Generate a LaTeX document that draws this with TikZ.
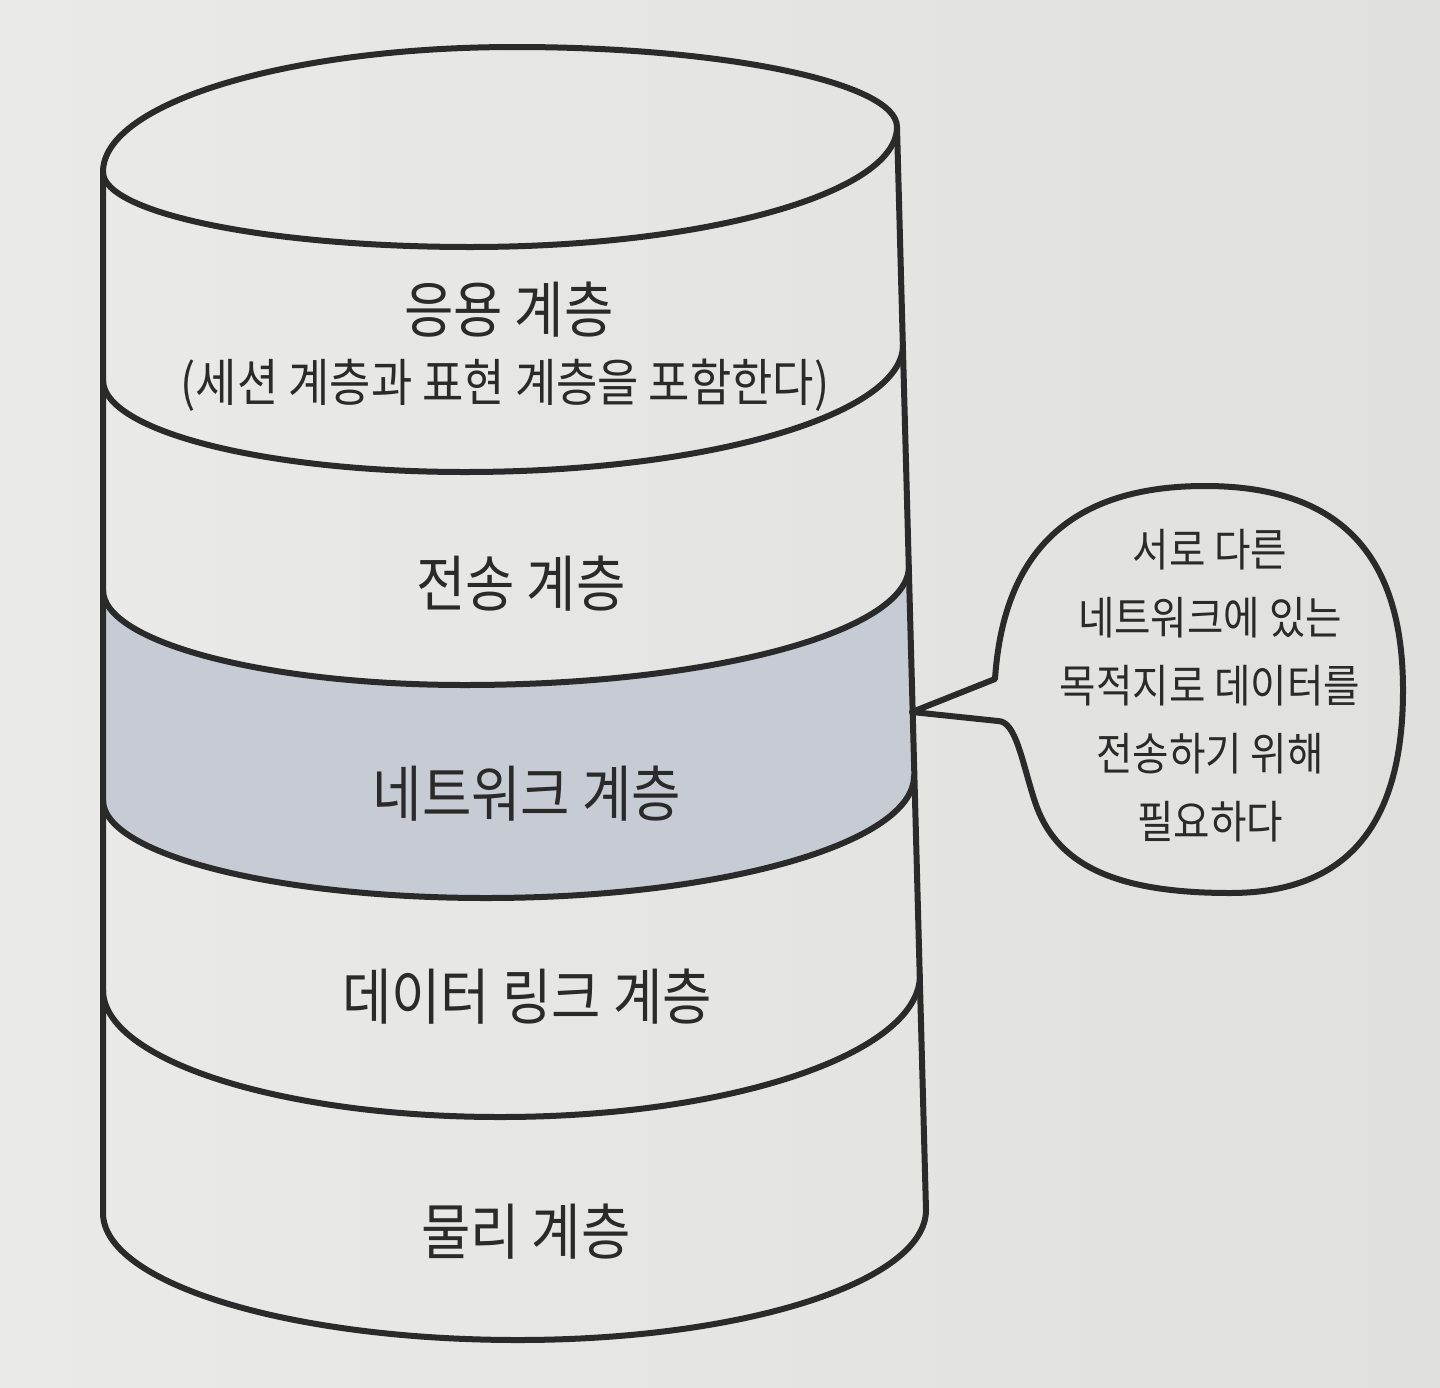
\documentclass[tikz,border=0pt]{standalone}
\usepackage{fontspec}
\setmainfont{Noto Sans CJK KR}[FakeStretch=0.88]
\definecolor{paper}{RGB}{234,234,232}
\definecolor{paperdark}{RGB}{224,224,223}
\definecolor{ink}{RGB}{42,42,42}
\definecolor{netfill}{RGB}{198,203,212}
\tikzset{
  outline/.style={draw=ink, line width=6pt, line join=round, line cap=round},
  layerlabel/.style={text=ink, font=\fontsize{61}{68}\selectfont, inner sep=0pt},
  sublabel/.style={text=ink, font=\fontsize{51}{58}\selectfont, inner sep=0pt},
  bubbletext/.style={text=ink, font=\fontsize{45}{68}\selectfont, align=center, inner sep=0pt},
}
\begin{document}
\begin{tikzpicture}[x=1pt,y=-1pt]
\useasboundingbox (0,0) rectangle (1440,1387);
\shade[left color=paper, right color=paperdark] (0,0) rectangle (1440,1387);

% corner coordinates of the cylinder
\coordinate (TL) at (103,172);
\coordinate (TR) at (897,127);
\coordinate (BL) at (103,1213);
\coordinate (BR) at (926,1210);
\coordinate (tip) at (912,712);

% shaded network layer
\fill[netfill] (103,590) .. controls (103,642) and (265,685) .. (465,685)
  .. controls (710,685) and (909,632) .. (909,566)
  -- (914,776) .. controls (914,843) and (722,898) .. (486,898)
  .. controls (275,898) and (103,854) .. (103,800) -- cycle;

% cylinder walls and bottom
\draw[outline] (TL) -- (BL)
  .. controls (103,1283) and (289,1340) .. (518,1340)
  .. controls (743,1340) and (926,1282) .. (BR) -- (TR);

% top ellipse
\draw[outline] (TL) .. controls (103,103) and (288,47) .. (515,47)
  .. controls (726,47) and (897,83) .. (TR)
  .. controls (897,193) and (706,247) .. (470,247)
  .. controls (267,247) and (103,213) .. (TL) -- cycle;

% layer boundaries
\draw[outline] (103,380) .. controls (103,431) and (265,472) .. (465,472)
  .. controls (707,472) and (903,415) .. (903,345);
\draw[outline] (103,590) .. controls (103,642) and (265,685) .. (465,685)
  .. controls (710,685) and (909,632) .. (909,566);
\draw[outline] (103,800) .. controls (103,854) and (275,898) .. (486,898)
  .. controls (722,898) and (914,843) .. (914,776);
\draw[outline] (103,990) .. controls (103,1060) and (281,1117) .. (500,1117)
  .. controls (732,1117) and (920,1053) .. (920,975);

% labels
\node[layerlabel] (app) at (509,310) {응용 계층};
\node[sublabel] (appsub) at (505,385) {(세션 계층과 표현 계층을 포함한다)};
\node[layerlabel] (trans) at (521,584) {전송 계층};
\node[layerlabel] (net) at (527,794) {네트워크 계층};
\node[layerlabel] (link) at (527,997) {데이터 링크 계층};
\node[layerlabel] (phys) at (526,1232) {물리 계층};

% speech bubble
\draw[outline] (995,679) .. controls (1003,560) and (1062,486) .. (1205,486)
  .. controls (1345,486) and (1403,560) .. (1403,690)
  .. controls (1403,830) and (1343,893) .. (1230,893)
  .. controls (1110,893) and (1055,862) .. (1035,802)
  .. controls (1022,762) and (1016,721) .. (998,721)
  -- (tip) -- cycle;
\node[bubbletext] (note) at (1210,686) {서로 다른\\네트워크에 있는\\목적지로 데이터를\\전송하기 위해\\필요하다};
\end{tikzpicture}
\end{document}
